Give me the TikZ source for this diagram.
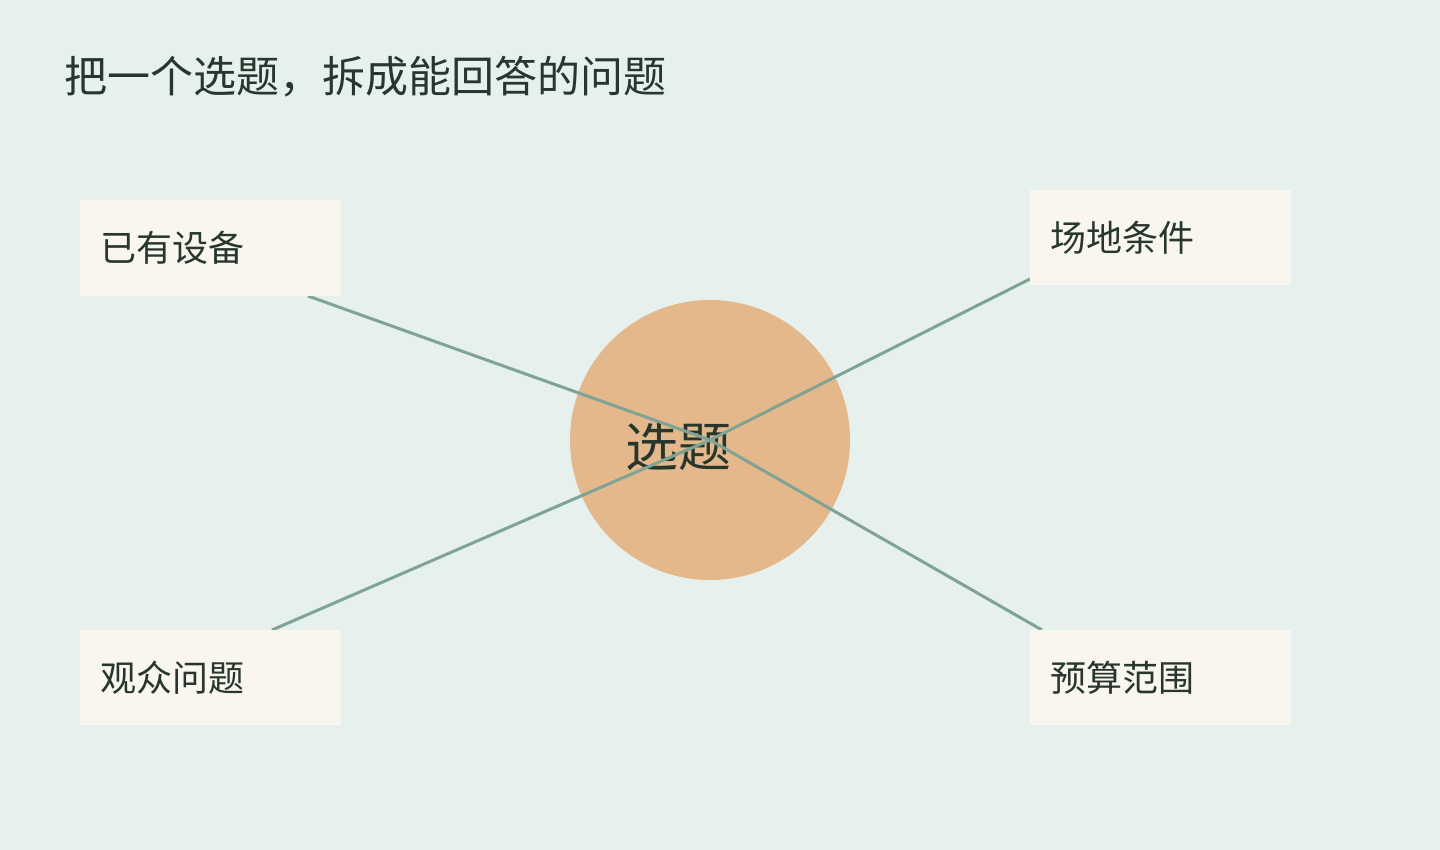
\documentclass[tikz,border=0pt]{standalone}
\usepackage{fontspec}
\setmainfont{Noto Sans CJK SC}
\definecolor{paper}{HTML}{E6F1ED}
\definecolor{cardfill}{HTML}{F8F6EE}
\definecolor{peach}{HTML}{E4B88A}
\definecolor{sage}{HTML}{7FA395}
\definecolor{ink}{HTML}{27372D}
\tikzstyle{card}=[fill=cardfill,anchor=north west,minimum height=95pt,text width=221pt,inner xsep=20pt,inner ysep=0pt,align=left,text=ink,font=\fontsize{36}{40}\selectfont]
\tikzstyle{link}=[draw=sage,line width=3pt]

\begin{document}
\begin{tikzpicture}[x=1pt,y=-1pt]
          \useasboundingbox (0,0) rectangle (1440,850);
          \fill[paper] (0,0) rectangle (1440,850);

          \node[anchor=west,inner sep=0pt,text=ink,font=\fontsize{43}{48}\selectfont] at (64,77) (title) {把一个选题，拆成能回答的问题};

          \node[circle,fill=peach,minimum size=280pt,inner sep=0pt] at (710,440) (topic) {};
          \node[inner sep=0pt,text=ink,font=\fontsize{53}{58}\selectfont] at (678,446) (topiclabel) {选题};

          \coordinate (equipEnd) at (308,296);
          \coordinate (venueEnd) at (1030,279);
          \coordinate (audienceEnd) at (272,630);
          \coordinate (budgetEnd) at (1042,630);

          \draw[link] (topic.center) -- (equipEnd);
          \draw[link] (topic.center) -- (venueEnd);
          \draw[link] (topic.center) -- (audienceEnd);
          \draw[link] (topic.center) -- (budgetEnd);

          \node[card,minimum height=96pt] at (80,200) (equip) {已有设备};
          \node[card] at (1030,190) (venue) {场地条件};
          \node[card] at (80,630) (audience) {观众问题};
          \node[card] at (1030,630) (budget) {预算范围};
        \end{tikzpicture}
\end{document}
